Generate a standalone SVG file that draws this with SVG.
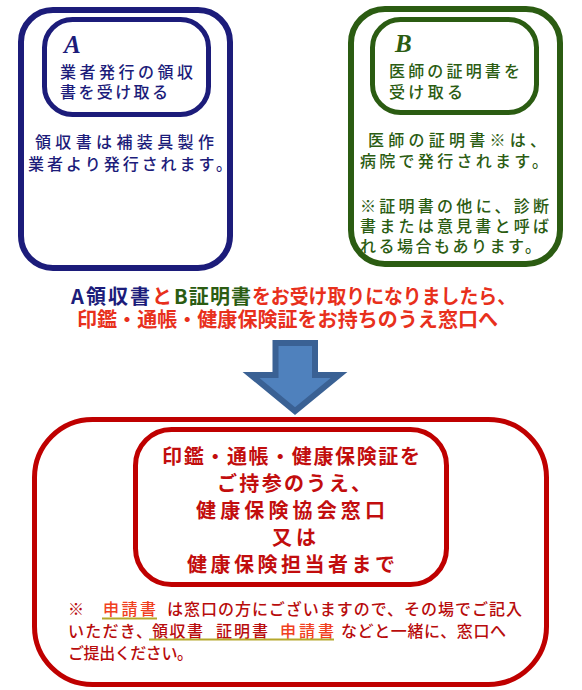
<svg xmlns="http://www.w3.org/2000/svg" width="582" height="690" viewBox="0 0 582 690">
<style>
.jp{font-family:"Noto Sans CJK JP","Noto Sans CJK SC",sans-serif;}
.bx{fill:#fff;}
.navy{fill:#1c1c7a;}
.green{fill:#2b5c12;}
.letter{font-family:"Liberation Serif",serif;font-weight:bold;font-style:italic;font-size:25px;}
.body{font-size:16px;font-weight:500;}
.msg{font-size:20px;font-weight:bold;}
.red{fill:#e8301c;}
.dred{fill:#c20d0d;}
.note{font-size:16px;font-weight:500;fill:#b80c0c;}
.oran{fill:#f0401e;}
.ul{stroke:#b5a82c;stroke-width:2;fill:none;}
</style>
<rect width="582" height="690" fill="#fff"/>

<g id="box-a">
<rect class="bx" x="21" y="10" width="209" height="258" rx="32" stroke="#1c1c7a" stroke-width="6"/>
<rect class="bx" x="44.5" y="19.5" width="164" height="95" rx="28" stroke="#1c1c7a" stroke-width="5"/>
<text class="letter navy" x="64" y="53">A</text>
<text class="jp body navy" x="60" y="78" textLength="133" lengthAdjust="spacing">業者発行の領収</text>
<text class="jp body navy" x="60" y="98" textLength="108" lengthAdjust="spacing">書を受け取る</text>
<text class="jp body navy" x="35" y="148" textLength="179" lengthAdjust="spacing">領収書は補装具製作</text>
<text class="jp body navy" x="28" y="170" textLength="204" lengthAdjust="spacing">業者より発行されます。</text>
</g>

<g id="box-b">
<rect class="bx" x="351" y="9" width="209" height="255" rx="34" stroke="#2b5c12" stroke-width="6"/>
<rect class="bx" x="372.5" y="19.5" width="164" height="93" rx="28" stroke="#2b5c12" stroke-width="5"/>
<text class="letter green" x="395" y="52">B</text>
<text class="jp body green" x="389" y="77" textLength="131" lengthAdjust="spacing">医師の証明書を</text>
<text class="jp body green" x="389" y="98" textLength="74" lengthAdjust="spacing">受け取る</text>
<text class="jp body green" x="368" y="146" textLength="178" lengthAdjust="spacing">医師の証明書※は、</text>
<text class="jp body green" x="360" y="167" textLength="188" lengthAdjust="spacing">病院で発行されます。</text>
<text class="jp body green" x="360" y="212" textLength="189" lengthAdjust="spacing">※証明書の他に、診断</text>
<text class="jp body green" x="360" y="232" textLength="189" lengthAdjust="spacing">書または意見書と呼ば</text>
<text class="jp body green" x="360" y="252" textLength="181" lengthAdjust="spacing">れる場合もあります。</text>
</g>

<g id="message">
<text class="jp msg"><tspan class="navy" x="71" y="304" textLength="79" lengthAdjust="spacing">A領収書</tspan><tspan class="red" x="152" y="304">と</tspan><tspan class="green" x="174" y="304" textLength="77" lengthAdjust="spacing">B証明書</tspan><tspan class="red" x="252" y="304" textLength="264" lengthAdjust="spacingAndGlyphs">をお受け取りになりましたら、</tspan><tspan class="red" x="77" y="327" textLength="421" lengthAdjust="spacing">印鑑・通帳・健康保険証をお持ちのうえ窓口へ</tspan></text>
</g>

<g id="connectors">
<path d="M275.5,343 H315 V375 H339 L295,411 L251,375 H275.5 Z" fill="#4f81bd" stroke="#3a6194" stroke-width="6" stroke-linejoin="miter"/>
</g>

<g id="box-bottom">
<rect class="bx" x="34.5" y="419.5" width="512" height="265" rx="58" stroke="#bf0000" stroke-width="5"/>
<rect class="bx" x="135.5" y="429.5" width="311" height="155" rx="36" stroke="#bf0000" stroke-width="5"/>
<text class="jp msg dred" x="162" y="464" textLength="258" lengthAdjust="spacing">印鑑・通帳・健康保険証を</text>
<text class="jp msg dred" x="217" y="491" textLength="154" lengthAdjust="spacing">ご持参のうえ、</text>
<text class="jp msg dred" x="196" y="518" textLength="189" lengthAdjust="spacing">健康保険協会窓口</text>
<text class="jp msg dred" x="272" y="545" textLength="44" lengthAdjust="spacing">又は</text>
<text class="jp msg dred" x="187" y="572" textLength="208" lengthAdjust="spacing">健康保険担当者まで</text>
</g>

<g id="note">
<text class="jp note" x="68" y="615">※</text>
<text class="jp note oran" x="103" y="615" textLength="53" lengthAdjust="spacing">申請書</text>
<text class="jp note" x="167" y="615" textLength="355" lengthAdjust="spacing">は窓口の方にございますので、その場でご記入</text>
<line class="ul" x1="102" y1="618.5" x2="157" y2="618.5"/>
<text class="jp note" x="68" y="637" textLength="84" lengthAdjust="spacing">いただき、</text>
<text class="jp note navy" x="152" y="637" textLength="51" lengthAdjust="spacing">領収書</text>
<text class="jp note green" x="216" y="637" textLength="52" lengthAdjust="spacing">証明書</text>
<text class="jp note oran" x="280" y="637" textLength="54" lengthAdjust="spacing">申請書</text>
<text class="jp note" x="341" y="637" textLength="165" lengthAdjust="spacing">などと一緒に、窓口へ</text>
<line class="ul" x1="149" y1="639.5" x2="334" y2="639.5"/>
<text class="jp note" x="68" y="659" textLength="125" lengthAdjust="spacing">ご提出ください。</text>
</g>
</svg>
